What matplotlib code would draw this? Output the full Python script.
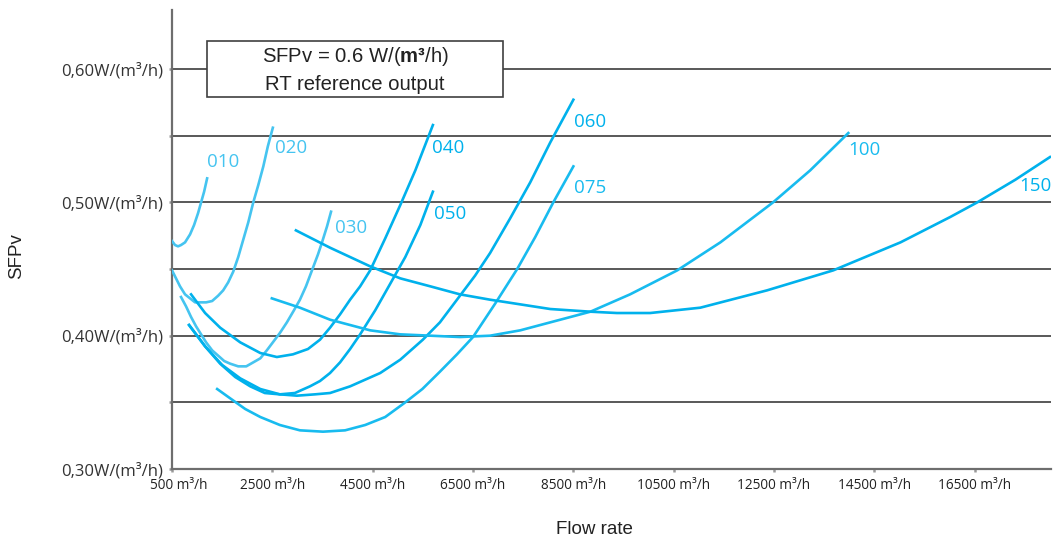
import matplotlib
matplotlib.use('Agg')
import matplotlib.pyplot as plt
from matplotlib.patches import Rectangle
from matplotlib.transforms import ScaledTranslation

# Fan curves: flow rate (m3/h) vs SFPv (W/(m3/h))
flow_010 = [500, 560, 620, 680, 760, 860, 940, 1020, 1080, 1140, 1200]
sfp_010 = [0.471, 0.468, 0.467, 0.468, 0.470, 0.476, 0.483, 0.492, 0.500, 0.508, 0.518]

flow_020 = [500, 580, 660, 760, 860, 960, 1060, 1180, 1300, 1420, 1520, 1620, 1720, 1820,
            1920, 2020, 2120, 2220, 2320, 2410, 2510]
sfp_020 = [0.449, 0.443, 0.437, 0.431, 0.428, 0.425, 0.425, 0.425, 0.426, 0.430, 0.434, 0.440,
           0.448, 0.459, 0.472, 0.485, 0.500, 0.513, 0.527, 0.542, 0.556]

flow_030 = [680, 780, 880, 980, 1080, 1180, 1300, 1420, 1540, 1660, 1820, 1980, 2120, 2260,
            2390, 2530, 2650, 2790, 2930, 3050, 3170, 3310, 3410, 3490, 3590, 3670]
sfp_030 = [0.429, 0.422, 0.414, 0.407, 0.401, 0.395, 0.389, 0.385, 0.381, 0.379, 0.377, 0.377,
           0.380, 0.383, 0.389, 0.396, 0.402, 0.410, 0.419, 0.427, 0.437, 0.451, 0.461, 0.470,
           0.482, 0.493]

flow_040 = [880, 1160, 1460, 1860, 2260, 2590, 2910, 3210, 3450, 3650, 3850, 4050, 4250, 4450,
            4750, 5050, 5350, 5700]
sfp_040 = [0.431, 0.417, 0.406, 0.395, 0.387, 0.384, 0.386, 0.390, 0.397, 0.406, 0.416, 0.427,
           0.437, 0.449, 0.473, 0.498, 0.524, 0.558]

flow_050 = [840, 1160, 1460, 1760, 2060, 2350, 2650, 2950, 3250, 3450, 3650, 3850, 4050, 4250,
            4550, 4850, 5150, 5450, 5700]
sfp_050 = [0.408, 0.392, 0.379, 0.369, 0.362, 0.357, 0.356, 0.357, 0.362, 0.366, 0.372, 0.380,
           0.390, 0.401, 0.419, 0.439, 0.459, 0.483, 0.508]

flow_060 = [840, 1160, 1500, 1860, 2260, 2650, 2990, 3350, 3650, 4050, 4650, 5050, 5500, 5840,
            6180, 6540, 6840, 7240, 7640, 8040, 8500]
sfp_060 = [0.408, 0.392, 0.378, 0.368, 0.360, 0.356, 0.355, 0.356, 0.357, 0.362, 0.372, 0.382,
           0.397, 0.410, 0.427, 0.445, 0.462, 0.488, 0.515, 0.545, 0.577]

flow_075 = [1400, 1660, 1960, 2260, 2650, 3050, 3510, 3950, 4350, 4750, 5150, 5490, 5840, 6180,
            6500, 6940, 7380, 7740, 8100, 8500]
sfp_075 = [0.360, 0.353, 0.345, 0.339, 0.333, 0.329, 0.328, 0.329, 0.333, 0.339, 0.350, 0.360,
           0.373, 0.386, 0.399, 0.424, 0.450, 0.474, 0.500, 0.527]

flow_100 = [2490, 3050, 3650, 4450, 5050, 5650, 6240, 6840, 7440, 8040, 8840, 9630, 10570,
            11430, 12480, 13220, 13980]
sfp_100 = [0.428, 0.421, 0.412, 0.404, 0.401, 0.400, 0.399, 0.400, 0.404, 0.410, 0.418, 0.431,
           0.449, 0.470, 0.500, 0.524, 0.552]

flow_150 = [2970, 3650, 4450, 5050, 5650, 6240, 6840, 8040, 8840, 9370, 10030, 11030, 12360,
            13680, 15020, 16010, 16550, 17310, 18000]
sfp_150 = [0.479, 0.466, 0.452, 0.443, 0.437, 0.431, 0.427, 0.420, 0.418, 0.417, 0.417, 0.421,
           0.434, 0.449, 0.470, 0.489, 0.500, 0.517, 0.534]

sizes = ['010', '020', '030', '040', '050', '060', '075', '100', '150']

x_ticks = [500, 2500, 4500, 6500, 8500, 10500, 12500, 14500, 16500]
x_tick_labels = ['500 m³/h', '2500 m³/h', '4500 m³/h', '6500 m³/h', '8500 m³/h',
                 '10500 m³/h', '12500 m³/h', '14500 m³/h', '16500 m³/h']
y_ticks = [0.30, 0.40, 0.50, 0.60]
y_tick_labels = ['0,30W/(m³/h)', '0,40W/(m³/h)', '0,50W/(m³/h)', '0,60W/(m³/h)']
grid_levels = [0.35, 0.40, 0.45, 0.50, 0.55, 0.60]

plt.rcParams['mathtext.fontset'] = 'custom'
plt.rcParams['mathtext.rm'] = 'Liberation Sans'
plt.rcParams['mathtext.bf'] = 'Liberation Sans:bold'

light = '#45c4f0'
mid = '#18bbef'
dark = '#00b1ec'

curves = [
    (flow_010, sfp_010, light, (1200, 0.530)),
    (flow_020, sfp_020, light, (2550, 0.541)),
    (flow_030, sfp_030, light, (3750, 0.481)),
    (flow_040, sfp_040, dark, (5680, 0.541)),
    (flow_050, sfp_050, dark, (5720, 0.491)),
    (flow_060, sfp_060, dark, (8510, 0.560)),
    (flow_075, sfp_075, mid, (8510, 0.511)),
    (flow_100, sfp_100, mid, (13980, 0.539)),
    (flow_150, sfp_150, dark, (17390, 0.512)),
]

fig = plt.figure(figsize=(10.56, 5.40), dpi=100)
ax = fig.add_axes([172 / 1056, 71 / 540, 879 / 1056, 459 / 540])
ax.set_xlim(500, 18020)
ax.set_ylim(0.30, 0.6443)

# horizontal reference lines
for lvl in grid_levels:
    ax.axhline(lvl, color='#2b2b2b', lw=1.1, zorder=1)

for (fx, fy, col, lab_pos), name in zip(curves, sizes):
    ax.plot(fx, fy, color=col, lw=1.9, solid_joinstyle='round', zorder=4)
    ax.text(lab_pos[0], lab_pos[1], name, color=col, fontsize=13.5,
            family='Open Sans', ha='left', va='center', zorder=5)

# info box
ax.add_patch(Rectangle((1198, 0.5791), 7100 - 1198, 0.6211 - 0.5791,
                       facecolor='white', edgecolor='#404040', lw=1.2, zorder=3))
ax.text(4150, 0.6091, r'SFPv = 0.6 W/($\mathbf{m³}$/h)', ha='center', va='center',
        fontsize=14.6, family='Liberation Sans', color='#222222', zorder=5)
ax.text(4150, 0.5881, 'RT reference output', ha='center', va='center',
        fontsize=14.6, family='Liberation Sans', color='#222222', zorder=5)

for side in ['top', 'right']:
    ax.spines[side].set_visible(False)
for side in ['left', 'bottom']:
    ax.spines[side].set_color('#6e6e6e')
    ax.spines[side].set_linewidth(1.6)

ax.set_xticks(x_ticks)
ax.set_xticklabels(x_tick_labels, family='Open Sans', fontsize=9.8, color='#222222')
ax.set_yticks(y_ticks)
ax.set_yticklabels(y_tick_labels, family='Open Sans', fontsize=12, color='#333333')
ax.set_yticks(grid_levels[::2], minor=True)
ax.tick_params(axis='both', which='both', length=2.5, width=1.8, color='#9a9a9a')
ax.tick_params(axis='y', pad=4)
ax.tick_params(axis='x', pad=4)

# first x label sits a little to the right of its tick in the original
first = ax.get_xticklabels()[0]
first.set_transform(first.get_transform() + ScaledTranslation(0.07, 0, fig.dpi_scale_trans))

fig.text(17 / 1056, 1 - 256 / 540, 'SFPv', rotation=90, ha='center', va='center',
         fontsize=13.5, family='Liberation Sans', color='#222222')
fig.text(594 / 1056, 1 - 530 / 540, 'Flow rate', ha='center', va='center',
         fontsize=13.5, family='Liberation Sans', color='#222222')

fig.savefig('out.png', dpi=100)
